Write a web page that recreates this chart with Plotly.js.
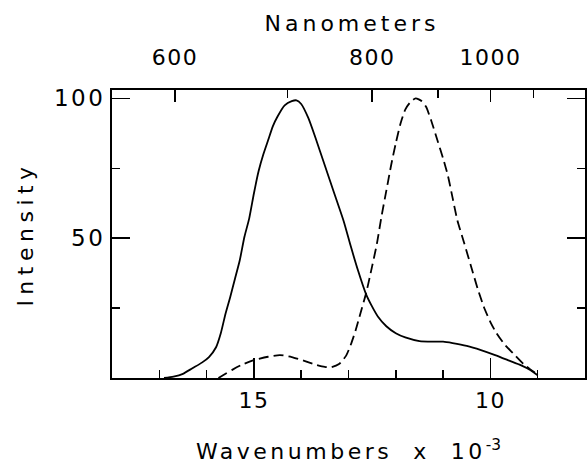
<!DOCTYPE html>
<html>
<head>
<meta charset="utf-8">
<script src="https://cdn.plot.ly/plotly-3.0.1.min.js"></script>
<style>html,body{margin:0;padding:0;background:#fff;}#chart{width:587px;height:464px;}</style>
</head>
<body>
<div id="chart"></div>
<script>
// Wavenumbers (x 10^-3 cm^-1) and intensities for the solid curve
const solidWavenumber = [16.9, 16.7, 16.5, 16.3, 16.1, 15.95, 15.8, 15.7, 15.6, 15.5, 15.4, 15.3, 15.2, 15.1, 15.0, 14.9, 14.8, 14.7, 14.6, 14.5, 14.35, 14.2, 14.1, 14.0, 13.85, 13.7, 13.5, 13.3, 13.1, 12.95, 12.8, 12.63, 12.5, 12.38, 12.2, 12.0, 11.8, 11.5, 11.2, 11.0, 10.8, 10.5, 10.2, 9.9, 9.6, 9.36, 9.15, 9.0];
const solidIntensity  = [0, 0.5, 1.5, 3.5, 5.5, 7.5, 11, 16, 23, 29, 35.5, 42, 50.5, 57, 66, 74, 80, 85, 90, 93.5, 97.5, 99, 99.3, 98, 93, 86, 76, 66, 56, 47, 38.5, 30, 25.5, 22, 18.5, 16, 14.5, 13.2, 13, 13, 12.5, 11.5, 10, 8.2, 6.2, 4.6, 2.8, 1];

// Dashed curve
const dashedWavenumber = [15.75, 15.6, 15.45, 15.27, 15.0, 14.7, 14.45, 14.2, 13.95, 13.7, 13.5, 13.37, 13.2, 13.05, 12.95, 12.85, 12.75, 12.63, 12.5, 12.4, 12.3, 12.2, 12.1, 12.0, 11.9, 11.8, 11.7, 11.58, 11.45, 11.36, 11.25, 11.12, 11.0, 10.9, 10.8, 10.7, 10.55, 10.41, 10.27, 10.14, 10.0, 9.87, 9.7, 9.52, 9.3, 9.15, 9.0];
const dashedIntensity  = [0, 1.5, 3, 4.6, 6.4, 7.6, 8.2, 7.5, 6.2, 4.8, 4, 3.8, 5, 8, 12, 17, 23, 30.2, 40, 48, 58, 67, 76, 84, 91, 96, 98.5, 100, 99, 97, 92, 85, 78.5, 72.5, 64.5, 56.5, 48, 40, 32, 25.5, 20, 16, 12, 8.8, 5, 3, 1.2];

// Tick labels
const bottomMajorTicks = [15, 10];
const bottomMajorLabels = ["15", "10"];
const topMajorNm = [600, 800, 1000];
const topMinorNm = [700, 900, 1100];
const yMajorTicks = [50, 100];
const yMajorLabels = ["50", "100"];
const yMinorTicks = [25, 75];
const xRange = [18, 8];

const FONT = 'DejaVu Sans, sans-serif';
const sp = (t, ls) => '<span style="letter-spacing:' + ls + 'px">' + t + '</span>';

const traces = [
  {x: solidWavenumber, y: solidIntensity, type: 'scatter', mode: 'lines',
   line: {color: '#000', width: 1.8, shape: 'spline', smoothing: 0.6}, xaxis: 'x', yaxis: 'y', hoverinfo: 'skip'},
  {x: dashedWavenumber, y: dashedIntensity, type: 'scatter', mode: 'lines',
   line: {color: '#000', width: 1.8, dash: '10px,5px', shape: 'spline', smoothing: 0.6}, xaxis: 'x', yaxis: 'y', hoverinfo: 'skip'},
  // invisible helper so the top (nanometer) axis is drawn
  {x: xRange, y: [50, 50], type: 'scatter', mode: 'markers', marker: {opacity: 0, size: 1},
   xaxis: 'x2', yaxis: 'y', hoverinfo: 'skip', showlegend: false}
];

const layout = {
  width: 587, height: 464,
  margin: {l: 112, r: 2, t: 90, b: 86},
  paper_bgcolor: '#fff', plot_bgcolor: '#fff',
  showlegend: false,
  font: {family: FONT, color: '#000', size: 22},
  xaxis: {
    range: xRange, showgrid: false, zeroline: false,
    showline: true, linecolor: '#000', linewidth: 2, mirror: true,
    ticks: 'inside', ticklen: 20, tickwidth: 1.5, tickcolor: '#000',
    tickmode: 'array', tickvals: bottomMajorTicks, ticktext: bottomMajorLabels.map(t => sp(t, 1.5)),
    minor: {ticks: 'inside', ticklen: 8, tickwidth: 1.5, tickcolor: '#000', dtick: 1, tick0: 0, showgrid: false},
    tickfont: {family: FONT, size: 22},
    ticklabelstandoff: 2,
    title: {text: sp('Wavenumbers  x  10', 3.5) + '<sup>-3</sup>', font: {family: FONT, size: 22}, standoff: 32},
    automargin: false
  },
  xaxis2: {
    overlaying: 'x', side: 'top', anchor: 'y',
    range: xRange, showgrid: false, zeroline: false,
    showline: true, linecolor: '#000', linewidth: 2,
    ticks: 'inside', ticklen: 12, tickwidth: 1.5, tickcolor: '#000',
    tickmode: 'array', tickvals: topMajorNm.map(n => 1e4 / n), ticktext: topMajorNm.map(n => sp(String(n), 1.5)),
    minor: {ticks: 'inside', ticklen: 8, tickwidth: 1.5, tickcolor: '#000', tickmode: 'array', tickvals: topMinorNm.map(n => 1e4 / n), showgrid: false},
    tickfont: {family: FONT, size: 22},
    ticklabelstandoff: 14,
    title: {text: '&nbsp;' + sp('Nanometers', 4), font: {family: FONT, size: 22}, standoff: 8},
    automargin: false
  },
  yaxis: {
    range: [0, 103], showgrid: false, zeroline: false,
    showline: true, linecolor: '#000', linewidth: 2, mirror: 'ticks',
    ticks: 'inside', ticklen: 18, tickwidth: 1.5, tickcolor: '#000',
    tickmode: 'array', tickvals: yMajorTicks, ticktext: yMajorLabels.map(t => sp(t, 2.5)),
    minor: {ticks: 'inside', ticklen: 8, tickwidth: 1.5, tickcolor: '#000', tickmode: 'array', tickvals: yMinorTicks, showgrid: false},
    tickfont: {family: FONT, size: 23},
    ticklabelstandoff: 0,
    title: {text: sp('Intensity', 5.5), font: {family: FONT, size: 22}, standoff: 14},
    automargin: false
  }
};

Plotly.newPlot('chart', traces, layout, {staticPlot: true, displayModeBar: false});
</script>
</body>
</html>
